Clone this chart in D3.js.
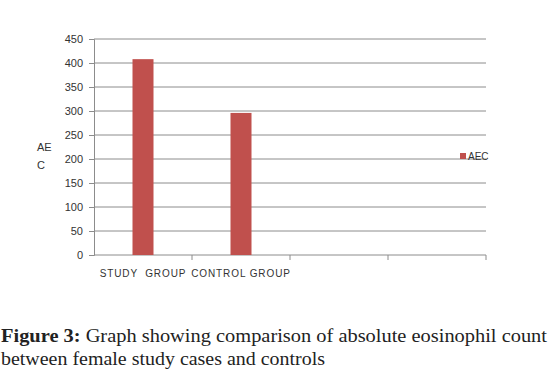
<!DOCTYPE html>
<html lang="en">
    <head>
        <meta charset="utf-8">
        <title>AEC bars</title>
        <script src="https://d3js.org/d3.v7.min.js"></script>
        <style type="text/css">
            body { margin: 0; background: #fff; }
            .tick text { font-family: "Liberation Sans", Arial, sans-serif; font-size: 11px; fill: #333; }
            .caption { font-family: "Liberation Serif", "Times New Roman", serif; font-size: 18.5px; fill: #222; }
        </style>
    </head>
    <body>
        <svg width="550" height="377"></svg>
        <script type="text/javascript">

            //data
            const groups = ["STUDY  GROUP", "CONTROL GROUP", "", " "];
            const aec = [408, 296, null, null];
            const yTicks = [0, 50, 100, 150, 200, 250, 300, 350, 400, 450];

            const svg = d3.select("svg");
            const plotL = 94, plotR = 486, plotT = 39, plotB = 255;

            const xScale = d3.scaleBand()
                             .domain(groups)
                             .range([plotL, plotR]);

            const yScale = d3.scaleLinear()
                             .domain([0, 450])
                             .range([plotB, plotT]);

            //gridlines
            svg.append("g")
               .selectAll("line")
               .data(yTicks.slice(1))
               .enter()
               .append("line")
               .attr("x1", plotL)
               .attr("x2", plotR)
               .attr("y1", d => yScale(d))
               .attr("y2", d => yScale(d))
               .style("stroke", "#8c8c8c")
               .style("stroke-width", 1);

            //y axis
            const yAxis = svg.append("g")
               .attr("transform", `translate(${plotL},0)`)
               .call(d3.axisLeft(yScale).tickValues(yTicks).tickSize(5).tickPadding(6));
            yAxis.select(".domain").style("stroke", "#8c8c8c");
            yAxis.selectAll(".tick line").style("stroke", "#8c8c8c");

            //x axis: ticks on band edges
            const xAxis = svg.append("g")
               .attr("transform", `translate(0,${plotB})`);
            xAxis.append("line")
                 .attr("x1", plotL).attr("x2", plotR)
                 .style("stroke", "#8c8c8c");
            xAxis.selectAll(".edge")
                 .data(groups)
                 .enter()
                 .append("line")
                 .attr("x1", d => xScale(d) + xScale.bandwidth())
                 .attr("x2", d => xScale(d) + xScale.bandwidth())
                 .attr("y1", 0).attr("y2", 5)
                 .style("stroke", "#8c8c8c");
            xAxis.selectAll("text")
                 .data(groups)
                 .enter()
                 .append("text")
                 .attr("x", d => xScale(d) + xScale.bandwidth() / 2)
                 .attr("y", 22)
                 .attr("text-anchor", "middle")
                 .style("font-family", "'Liberation Sans', Arial, sans-serif")
                 .style("font-size", "10px")
                 .style("letter-spacing", "0.9px")
                 .style("white-space", "pre")
                 .style("fill", "#333")
                 .text(d => d.trim() ? d : "");

            //bars
            const barW = 21;
            svg.append("g")
               .selectAll("rect")
               .data(aec.map((v, i) => ({g: groups[i], v: v})).filter(d => d.v !== null))
               .enter()
               .append("rect")
               .attr("x", d => xScale(d.g) + xScale.bandwidth() / 2 - barW / 2)
               .attr("y", d => yScale(d.v))
               .attr("width", barW)
               .attr("height", d => yScale(0) - yScale(d.v))
               .style("fill", "#c0504d");

            //y title
            svg.append("text")
               .attr("x", 37).attr("y", 151)
               .style("font-family", "'Liberation Sans', Arial, sans-serif")
               .style("font-size", "11px")
               .style("fill", "#333")
               .text("AE");
            svg.append("text")
               .attr("x", 37).attr("y", 169)
               .style("font-family", "'Liberation Sans', Arial, sans-serif")
               .style("font-size", "11px")
               .style("fill", "#333")
               .text("C");

            //legend
            svg.append("rect")
               .attr("x", 460).attr("y", 153)
               .attr("width", 6).attr("height", 6)
               .style("fill", "#c0504d");
            svg.append("text")
               .attr("x", 468).attr("y", 160)
               .style("font-family", "'Liberation Sans', Arial, sans-serif")
               .style("font-size", "10px")
               .style("fill", "#333")
               .text("AEC");

            //caption
            const cap1 = svg.append("text")
               .attr("class", "caption")
               .attr("x", 1).attr("y", 342)
               .attr("textLength", 546)
               .attr("lengthAdjust", "spacingAndGlyphs");
            cap1.append("tspan").style("font-weight", "bold").text("Figure 3:");
            cap1.append("tspan").text(" Graph showing comparison of absolute eosinophil count");
            svg.append("text")
               .attr("class", "caption")
               .attr("x", 1).attr("y", 365)
               .attr("textLength", 324)
               .attr("lengthAdjust", "spacingAndGlyphs")
               .text("between female study cases and controls");

        </script>
    </body>
</html>
